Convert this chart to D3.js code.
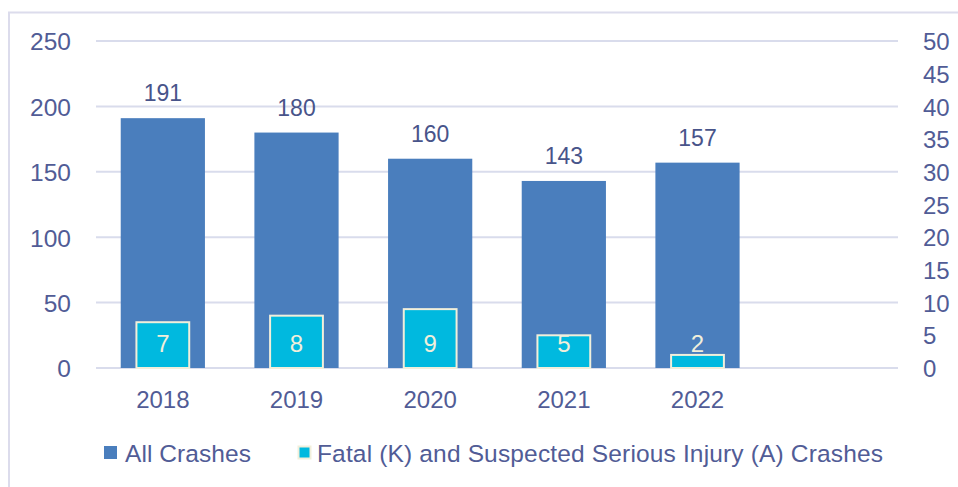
<!DOCTYPE html>
<html>
<head>
<meta charset="utf-8">
<script src="https://cdn.jsdelivr.net/npm/d3@7"></script>
<style>
  html, body { margin: 0; padding: 0; background: #fff; }
  text { font-family: "Liberation Sans", Arial, Helvetica, sans-serif; }
</style>
</head>
<body>
<svg id="chart" width="958" height="487"></svg>
<script>
// ---- Data ----
const categories = ["2018", "2019", "2020", "2021", "2022", ""];
const allCrashes = [191, 180, 160, 143, 157, null];
const kaCrashes = [7, 8, 9, 5, 2, null];
const leftTicks = [0, 50, 100, 150, 200, 250];
const rightTicks = [0, 5, 10, 15, 20, 25, 30, 35, 40, 45, 50];
const seriesNames = ["All Crashes", "Fatal (K) and Suspected Serious Injury (A) Crashes"];

// ---- Styles ----
const textColor = "#515c96";
const gridColor = "#d9dcec";
const blue = "#4a7ebd";
const cyan = "#00b9df";
const cream = "#f1efdb";

const svg = d3.select("#chart");
const W = 958, H = 487;

// frame
svg.append("rect")
  .attr("x", 9).attr("y", 12.5)
  .attr("width", W + 20).attr("height", H + 20)
  .attr("fill", "none").attr("stroke", "#dcdcec").attr("stroke-width", 2);

const x = d3.scaleBand().domain(categories.map((d, i) => i))
  .range([96, 898]).paddingInner(0.37).paddingOuter(0.185);
const xStep = d3.scaleBand().domain(categories.map((d, i) => i)).range([96, 898]);
const yL = d3.scaleLinear().domain([0, 250]).range([368, 41]);
const yR = d3.scaleLinear().domain([0, 50]).range([368, 41]);

// gridlines
svg.append("g").selectAll("line").data(leftTicks).join("line")
  .attr("x1", 96).attr("x2", 898)
  .attr("y1", d => yL(d)).attr("y2", d => yL(d))
  .attr("stroke", gridColor).attr("stroke-width", 2);

// left axis labels
const leftAxis = d3.axisLeft(yL).tickValues(leftTicks).tickSize(0).tickPadding(25);
const gl = svg.append("g").attr("transform", "translate(96,0)").call(leftAxis);
gl.select(".domain").remove();
gl.selectAll("text").attr("fill", textColor).style("font-size", "24.5px")
  .attr("font-family", "Liberation Sans, Arial, sans-serif").attr("dy", "0.36em");

// right axis labels
const rightAxis = d3.axisRight(yR).tickValues(rightTicks).tickSize(0).tickPadding(25);
const gr = svg.append("g").attr("transform", "translate(898,0)").call(rightAxis);
gr.select(".domain").remove();
gr.selectAll("text").attr("fill", textColor).style("font-size", "24px")
  .attr("font-family", "Liberation Sans, Arial, sans-serif").attr("dy", "0.36em");

// x axis labels
const xAxis = d3.axisBottom(xStep).tickFormat(i => categories[i]).tickSize(0).tickPadding(23);
const gx = svg.append("g").attr("transform", `translate(0,${yL(0)})`).call(xAxis);
gx.select(".domain").remove();
gx.selectAll("text").attr("fill", textColor).style("font-size", "24px")
  .attr("font-family", "Liberation Sans, Arial, sans-serif");

const dataIdx = allCrashes.map((v, i) => i).filter(i => allCrashes[i] != null);

// blue bars
svg.append("g").selectAll("rect").data(dataIdx).join("rect")
  .attr("x", i => x(i)).attr("width", x.bandwidth())
  .attr("y", i => yL(allCrashes[i])).attr("height", i => yL(0) - yL(allCrashes[i]))
  .attr("fill", blue);

// blue labels
svg.append("g").selectAll("text").data(dataIdx).join("text")
  .attr("x", i => x(i) + x.bandwidth() / 2)
  .attr("y", i => yL(allCrashes[i]) - 17)
  .attr("text-anchor", "middle").attr("fill", "#48548a")
  .style("font-size", "23px")
  .text(i => allCrashes[i]);

// cyan bars
const innerW = xStep.step() * 0.395;
svg.append("g").selectAll("rect").data(dataIdx).join("rect")
  .attr("x", i => x(i) + x.bandwidth() / 2 - innerW / 2).attr("width", innerW)
  .attr("y", i => yR(kaCrashes[i])).attr("height", i => yR(0) - yR(kaCrashes[i]))
  .attr("fill", cyan).attr("stroke", cream).attr("stroke-width", 2);

// cyan labels
svg.append("g").selectAll("text").data(dataIdx).join("text")
  .attr("x", i => x(i) + x.bandwidth() / 2)
  .attr("y", yR(0) - 16)
  .attr("text-anchor", "middle").attr("fill", cream)
  .style("font-size", "24px")
  .text(i => kaCrashes[i]);

// legend
const lg = svg.append("g");
lg.append("rect").attr("x", 104).attr("y", 446).attr("width", 13).attr("height", 13).attr("fill", blue);
lg.append("text").attr("x", 125).attr("y", 462).attr("fill", textColor)
  .style("font-size", "24.5px").attr("textLength", 126).attr("lengthAdjust", "spacing")
  .text(seriesNames[0]);
lg.append("rect").attr("x", 298.5).attr("y", 446.5).attr("width", 12).attr("height", 12)
  .attr("fill", cyan).attr("stroke", cream).attr("stroke-width", 2);
lg.append("text").attr("x", 317).attr("y", 462).attr("fill", textColor)
  .style("font-size", "24.5px").attr("textLength", 566).attr("lengthAdjust", "spacing")
  .text(seriesNames[1]);
</script>
</body>
</html>
